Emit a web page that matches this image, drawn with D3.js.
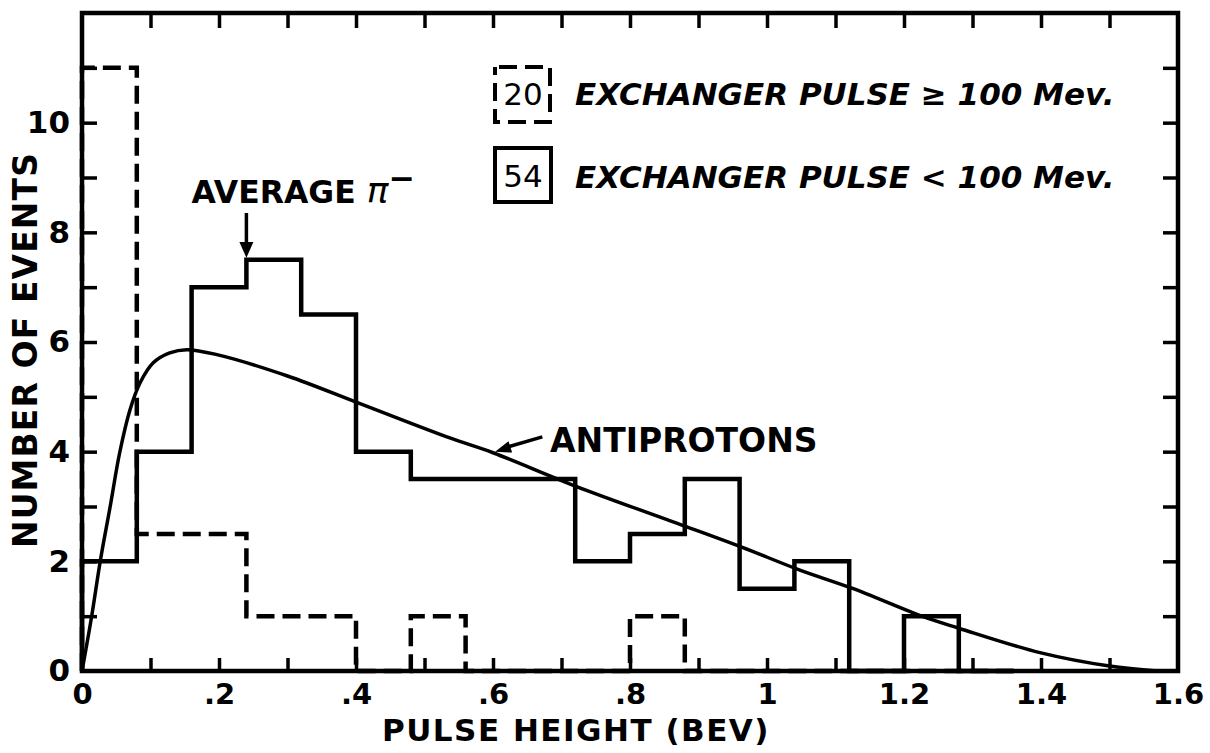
<!DOCTYPE html>
<html>
<head>
<meta charset="utf-8">
<script src="https://cdn.jsdelivr.net/npm/d3@7"></script>
<style>
  body { margin: 0; background: #fff; }
  text { font-family: "DejaVu Sans", sans-serif; font-weight: bold; fill: #000; }
</style>
</head>
<body>
<div id="plot"></div>
<script>
// histogram bins (BEV), width 0.08
const binStarts = [0, 0.08, 0.16, 0.24, 0.32, 0.40, 0.48, 0.56, 0.64, 0.72, 0.80, 0.88, 0.96, 1.04, 1.12, 1.20, 1.28];
const binWidth = 0.08;
// exchanger pulse < 100 Mev (solid, 54 events)
const countsLow = [2, 4, 7, 7.5, 6.5, 4, 3.5, 3.5, 3.5, 2, 2.5, 3.5, 1.5, 2, 0, 1, 0];
// exchanger pulse >= 100 Mev (dashed, 20 events)
const countsHigh = [11, 2.5, 2.5, 1, 1, 0, 1, 0, 0, 0, 1, 0, 0, 0, 0, 0, 0];

// antiproton curve
const curveX = [0, 0.014, 0.027, 0.041, 0.055, 0.070, 0.085, 0.104, 0.128, 0.153, 0.197, 0.30, 0.403, 0.537, 0.60, 0.723, 0.883, 0.963, 1.048, 1.124, 1.228, 1.28, 1.40, 1.50, 1.57];
const curveY = [0, 0.99, 2.03, 2.99, 3.98, 4.76, 5.26, 5.62, 5.80, 5.86, 5.77, 5.38, 4.89, 4.25, 3.98, 3.36, 2.63, 2.26, 1.84, 1.51, 0.99, 0.78, 0.33, 0.09, 0];

const xTickValues = [0, 0.2, 0.4, 0.6, 0.8, 1.0, 1.2, 1.4, 1.6];
const xTickLabels = ["0", ".2", ".4", ".6", ".8", "1", "1.2", "1.4", "1.6"];
const yTickValues = [0, 2, 4, 6, 8, 10];
const yTickLabels = ["0", "2", "4", "6", "8", "10"];

const width = 1210, height = 753;

const x = d3.scaleLinear().domain([0, 1.6]).range([82, 1178]);
const y = d3.scaleLinear().domain([0, 12]).range([671, 13]);

const svg = d3.select("div#plot")
  .append("svg")
    .attr("width", width)
    .attr("height", height);

svg.append("rect").attr("width", width).attr("height", height).attr("fill", "#fff");

// step outlines
function stepPoints(counts) {
  const pts = [[0, 0]];
  counts.forEach(function(c, i) { pts.push([binStarts[i], c]); });
  pts.push([binStarts[binStarts.length - 1] + binWidth, 0]);
  return pts;
}
const step = d3.line()
  .x(d => x(d[0]))
  .y(d => y(d[1]))
  .curve(d3.curveStepAfter);

svg.append("path")
  .attr("d", step(stepPoints(countsHigh)))
  .attr("fill", "none")
  .attr("stroke", "#000")
  .attr("stroke-width", 4.5)
  .attr("stroke-dasharray", "18,8");

svg.append("path")
  .attr("d", step(stepPoints(countsLow)))
  .attr("fill", "none")
  .attr("stroke", "#000")
  .attr("stroke-width", 4.5);

// antiproton curve
const curve = d3.line()
  .x(d => x(d[0]))
  .y(d => y(d[1]))
  .curve(d3.curveCatmullRom);

svg.append("path")
  .attr("d", curve(curveX.map((v, i) => [v, curveY[i]])))
  .attr("fill", "none")
  .attr("stroke", "#000")
  .attr("stroke-width", 3.5);

// frame
svg.append("rect")
  .attr("x", x(0)).attr("y", y(12))
  .attr("width", x(1.6) - x(0)).attr("height", y(0) - y(12))
  .attr("fill", "none").attr("stroke", "#000").attr("stroke-width", 4.5);

// inward ticks on all four sides
const minorX = d3.range(1, 16).map(i => i / 10);
const minorY = d3.range(1, 12);

function styleTicks(g) {
  g.select(".domain").remove();
  g.selectAll(".tick line").attr("stroke", "#000").attr("stroke-width", 3.5);
}
svg.append("g").attr("transform", `translate(0,${y(0)})`)
  .call(d3.axisBottom(x).tickValues(minorX).tickSize(-13).tickFormat(""))
  .call(styleTicks);
svg.append("g").attr("transform", `translate(0,${y(12)})`)
  .call(d3.axisTop(x).tickValues(minorX).tickSize(-15).tickFormat(""))
  .call(styleTicks);
svg.append("g").attr("transform", `translate(${x(0)},0)`)
  .call(d3.axisLeft(y).tickValues(minorY).tickSize(-15).tickFormat(""))
  .call(styleTicks);
svg.append("g").attr("transform", `translate(${x(1.6)},0)`)
  .call(d3.axisRight(y).tickValues(minorY).tickSize(-15).tickFormat(""))
  .call(styleTicks);

// tick labels
const xLab = svg.append("g").attr("transform", `translate(0,${y(0)})`)
  .call(d3.axisBottom(x).tickValues(xTickValues).tickSize(0).tickPadding(12)
    .tickFormat((d, i) => xTickLabels[i]));
xLab.select(".domain").remove();
xLab.selectAll("text").style("font-size", "29px").style("font-family", "DejaVu Sans").style("font-weight", "bold");

const yLab = svg.append("g").attr("transform", `translate(${x(0)},0)`)
  .call(d3.axisLeft(y).tickValues(yTickValues).tickSize(0).tickPadding(12)
    .tickFormat((d, i) => yTickLabels[i]));
yLab.select(".domain").remove();
yLab.selectAll("text").style("font-size", "31px").style("font-family", "DejaVu Sans").style("font-weight", "bold");

// axis titles
svg.append("text")
  .attr("x", 576).attr("y", 741)
  .attr("text-anchor", "middle")
  .style("font-size", "31px").style("letter-spacing", "1.5px")
  .text("PULSE HEIGHT (BEV)");

svg.append("text")
  .attr("transform", "translate(37,350) rotate(-90)")
  .attr("text-anchor", "middle")
  .style("font-size", "33px").style("letter-spacing", "1.1px")
  .text("NUMBER OF EVENTS");

// legend
svg.append("rect")
  .attr("x", 495).attr("y", 67).attr("width", 55).attr("height", 55)
  .attr("fill", "none").attr("stroke", "#000").attr("stroke-width", 4)
  .attr("stroke-dasharray", "18,8").attr("stroke-dashoffset", -4);
svg.append("text").attr("x", 523).attr("y", 105).attr("text-anchor", "middle")
  .style("font-size", "31px").style("font-weight", "normal").text("20");
svg.append("rect")
  .attr("x", 495).attr("y", 148).attr("width", 56).attr("height", 54)
  .attr("fill", "none").attr("stroke", "#000").attr("stroke-width", 4);
svg.append("text").attr("x", 523).attr("y", 187).attr("text-anchor", "middle")
  .style("font-size", "31px").style("font-weight", "normal").text("54");

svg.append("text").attr("x", 575).attr("y", 105)
  .style("font-size", "31px").style("font-style", "italic")
  .text("EXCHANGER PULSE \u2265 100 Mev.");
svg.append("text").attr("x", 575).attr("y", 188)
  .style("font-size", "31px").style("font-style", "italic")
  .text("EXCHANGER PULSE < 100 Mev.");

// annotations
const avg = svg.append("text").attr("x", x(0.16)).attr("y", 203).style("font-size", "31.5px");
avg.append("tspan").text("AVERAGE ");
avg.append("tspan").style("font-style", "italic").style("font-weight", "normal").style("font-size", "36px").text("\u03C0");
avg.append("tspan").attr("dy", -14).text("\u2212");

const ax = x(0.24);
svg.append("line").attr("x1", ax).attr("x2", ax).attr("y1", 213).attr("y2", 245)
  .attr("stroke", "#000").attr("stroke-width", 3.5);
svg.append("path")
  .attr("d", `M${ax - 7},242 L${ax + 7},242 L${ax},${y(7.5) - 2} Z`)
  .attr("fill", "#000");

// antiprotons label and arrow
const tipX = x(0.603), tipY = y(4.0);
const tailX = x(0.672), tailY = y(4.27);
svg.append("line").attr("x1", tailX).attr("y1", tailY).attr("x2", tipX + 10).attr("y2", tipY - 4)
  .attr("stroke", "#000").attr("stroke-width", 3.5);
const ang = Math.atan2(tipY - tailY, tipX - tailX);
const hl = 16, hw = 6;
const bx = tipX - hl * Math.cos(ang), by = tipY - hl * Math.sin(ang);
svg.append("path")
  .attr("d", `M${tipX},${tipY} L${bx - hw * Math.sin(ang)},${by + hw * Math.cos(ang)} L${bx + hw * Math.sin(ang)},${by - hw * Math.cos(ang)} Z`)
  .attr("fill", "#000");
svg.append("text").attr("x", 550).attr("y", 452)
  .style("font-size", "33px")
  .text("ANTIPROTONS");
</script>
</body>
</html>
